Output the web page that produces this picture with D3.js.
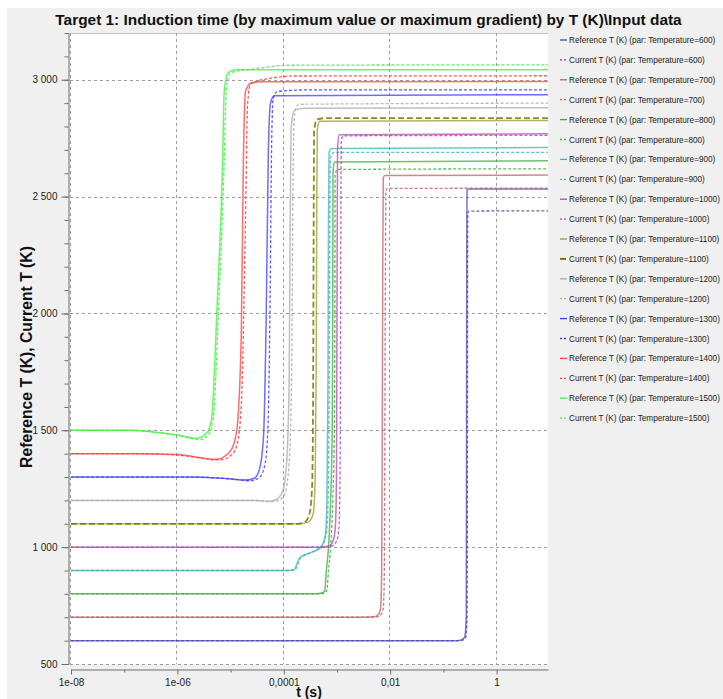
<!DOCTYPE html>
<html>
<head>
<meta charset="utf-8">
<script src="https://d3js.org/d3.v7.min.js"></script>
<style>
  body { margin: 0; background: #fff; }
  text { font-family: "Liberation Sans", Arial, sans-serif; }
</style>
</head>
<body>
<svg id="chart" width="723" height="699"></svg>
<script>
// parameter values (Temperature) of the series
var temperatures = [600, 700, 800, 900, 1000, 1100, 1200, 1300, 1400, 1500];

// each series: [log10 t (s), T (K)]
var ref600 = [[-8,600],[-0.75,600],[-0.66,603],[-0.6,615],[-0.57,700],[-0.565,1500],[-0.56,2400],[-0.555,2528],[-0.53,2532],[0.966,2533]];
var cur600 = [[-8,600],[-0.72,600],[-0.63,603],[-0.58,615],[-0.555,700],[-0.548,1500],[-0.545,2300],[-0.54,2430],[-0.52,2438],[0.966,2439]];
var ref700 = [[-8,700],[-2.5,700],[-2.3,702],[-2.22,712],[-2.18,740],[-2.16,900],[-2.15,1500],[-2.14,2200],[-2.13,2580],[-2.1,2590],[0.966,2592]];
var cur700 = [[-8,700],[-2.45,700],[-2.25,702],[-2.17,712],[-2.13,740],[-2.11,900],[-2.1,1500],[-2.09,2200],[-2.08,2525],[-2.05,2535],[0.966,2536]];
var ref800 = [[-8,801],[-3.4,801],[-3.28,804],[-3.23,815],[-3.2,900],[-3.16,1000],[-3.12,1200],[-3.09,1500],[-3.08,2000],[-3.075,2600],[-3.05,2648],[0.966,2653]];
var cur800 = [[-8,800],[-3.36,800],[-3.24,803],[-3.19,815],[-3.16,900],[-3.12,1000],[-3.08,1200],[-3.05,1500],[-3.04,2000],[-3.035,2590],[-3.0,2616],[0.966,2619]];
var ref900 = [[-8,900],[-3.9,900],[-3.8,905],[-3.75,930],[-3.7,955],[-3.6,968],[-3.45,980],[-3.3,1000],[-3.22,1050],[-3.19,1200],[-3.17,1700],[-3.16,2400],[-3.15,2690],[-3.1,2706],[0.966,2710]];
var cur900 = [[-8,900],[-3.88,900],[-3.78,905],[-3.73,930],[-3.68,955],[-3.58,968],[-3.42,985],[-3.27,1010],[-3.19,1080],[-3.16,1300],[-3.14,2000],[-3.13,2600],[-3.11,2680],[-3.05,2689],[0.966,2689]];
var ref1000 = [[-8,1000],[-3.3,1000],[-3.15,1005],[-3.07,1030],[-3.03,1090],[-3.01,1300],[-3.0,2000],[-2.99,2700],[-2.96,2765],[0.966,2769]];
var cur1000 = [[-8,1000],[-3.25,1000],[-3.1,1005],[-3.0,1030],[-2.96,1100],[-2.94,1400],[-2.93,2200],[-2.92,2740],[-2.88,2760],[0.966,2762]];
var ref1100 = [[-8,1100],[-3.7,1100],[-3.55,1106],[-3.45,1140],[-3.41,1300],[-3.39,1800],[-3.38,2500],[-3.37,2790],[-3.32,2822],[0.966,2826]];
var cur1100 = [[-8,1100],[-3.75,1100],[-3.6,1108],[-3.52,1140],[-3.47,1250],[-3.45,1600],[-3.44,2300],[-3.43,2780],[-3.38,2830],[-3.2,2836],[0.966,2836]];
var ref1200 = [[-8,1200],[-4.6,1200],[-4.3,1196],[-4.15,1203],[-4.02,1240],[-3.95,1350],[-3.9,1700],[-3.88,2400],[-3.86,2800],[-3.8,2870],[-3.6,2878],[0.966,2880]];
var cur1200 = [[-8,1200],[-4.5,1200],[-4.25,1195],[-4.1,1200],[-3.98,1230],[-3.9,1360],[-3.85,1800],[-3.83,2500],[-3.8,2850],[-3.72,2895],[0.966,2900]];
var ref1300 = [[-8,1300],[-5.7,1300],[-5.0,1292],[-4.72,1287],[-4.55,1295],[-4.45,1340],[-4.38,1480],[-4.33,2000],[-4.29,2700],[-4.25,2900],[-4.18,2932],[0.966,2936]];
var cur1300 = [[-8,1300],[-5.7,1300],[-4.9,1290],[-4.62,1284],[-4.45,1300],[-4.35,1360],[-4.3,1500],[-4.26,2000],[-4.23,2700],[-4.2,2920],[-4.12,2950],[-3.5,2957],[0.966,2957]];
var ref1400 = [[-8,1400],[-6.8,1400],[-6.0,1396],[-5.26,1376],[-5.01,1409],[-4.89,1490],[-4.8,1900],[-4.76,2650],[-4.72,2950],[-4.62,2985],[-4.4,2991],[0.966,2993]];
var cur1400 = [[-8,1400],[-6.8,1400],[-6.0,1394],[-5.2,1373],[-4.98,1395],[-4.88,1440],[-4.8,1600],[-4.72,2400],[-4.68,2900],[-4.62,2985],[-4.2,3008],[-3.8,3016],[0.966,3017]];
var ref1500 = [[-8,1500],[-6.95,1500],[-6.0,1480],[-5.64,1466],[-5.45,1488],[-5.36,1545],[-5.25,2050],[-5.15,2650],[-5.12,2950],[-5.05,3030],[-4.9,3043],[0.966,3043]];
var cur1500 = [[-8,1500],[-6.95,1500],[-6.0,1478],[-5.58,1460],[-5.42,1480],[-5.33,1545],[-5.22,2050],[-5.12,2650],[-5.08,2960],[-5.0,3030],[-4.6,3045],[-3.9,3062],[0.966,3064]];

var refSeries = [ref600, ref700, ref800, ref900, ref1000, ref1100, ref1200, ref1300, ref1400, ref1500];
var curSeries = [cur600, cur700, cur800, cur900, cur1000, cur1100, cur1200, cur1300, cur1400, cur1500];

// axis ticks
var xMajor = [1e-8, 1e-6, 1e-4, 1e-2, 1];
var xTickLabels = ["1e-08", "1e-06", "0,0001", "0,01", "1"];
var xMinor = [1e-7, 1e-5, 1e-3, 1e-1];
var yMajor = [500, 1000, 1500, 2000, 2500, 3000];
var yTickLabels = ["500", "1 000", "1 500", "2 000", "2 500", "3 000"];
var yMinor = d3.range(500, 3201, 100);

var colors = ["#4646b9", "#c45e5e", "#3faa3f", "#3bb5b5", "#b444b4", "#9a9a2a", "#aaaaaa", "#3c3cff", "#ff3c3c", "#3cf03c"];
var curColors = ["#4646b9", "#c45e5e", "#3faa3f", "#3bb5b5", "#b444b4", "#757500", "#aaaaaa", "#3c3cff", "#ff3c3c", "#3cf03c"];

var svg = d3.select("#chart");
svg.append("rect").attr("x", 7).attr("y", 8).attr("width", 716).attr("height", 691).attr("fill", "#f0f0f0");

var plotL = 71, plotR = 548, plotT = 33, plotB = 664;
var x = d3.scaleLog().domain([1e-8, Math.pow(10, 0.966)]).range([plotL, plotR]);
var y = d3.scaleLinear().domain([500, 3200]).range([plotB, plotT]);

svg.append("rect").attr("x", 70).attr("y", plotT).attr("width", plotR - 70).attr("height", plotB - plotT).attr("fill", "#fff");
svg.append("line").attr("x1", 70).attr("x2", plotR).attr("y1", plotT + 0.5).attr("y2", plotT + 0.5).attr("stroke", "#c8c8c8");

// grid
var grid = svg.append("g").attr("stroke", "#9c9c9c").attr("stroke-dasharray", "3,3");
xMajor.forEach(function (d) {
    var px = Math.round(x(d)) - 0.5;
    grid.append("line").attr("x1", px).attr("x2", px).attr("y1", plotT).attr("y2", plotB);
});
yMajor.forEach(function (d) {
    var py = Math.round(y(d)) + 0.5;
    grid.append("line").attr("x1", 70).attr("x2", plotR).attr("y1", py).attr("y2", py);
});

// series
svg.append("clipPath").attr("id", "plotClip").append("rect")
    .attr("x", 70).attr("y", plotT).attr("width", plotR - 70).attr("height", plotB - plotT);
var line = d3.line()
    .x(function (d) { return x(Math.pow(10, d[0])); })
    .y(function (d) { return y(d[1]); })
    .curve(d3.curveMonotoneX);
var plot = svg.append("g").attr("clip-path", "url(#plotClip)").attr("fill", "none");
temperatures.forEach(function (t, i) {
    plot.append("path").attr("d", line(refSeries[i]))
        .attr("stroke", colors[i]).attr("stroke-width", 1.5).attr("stroke-opacity", 0.75);
    plot.append("path").attr("d", line(curSeries[i]))
        .attr("stroke", curColors[i])
        .attr("stroke-width", t == 1100 ? 1.8 : 1.3)
        .attr("stroke-dasharray", t == 1100 ? "6,3" : "3,2")
        .attr("stroke-opacity", 0.85);
});

// y axis
var yAxisG = svg.append("g").attr("transform", "translate(68.5,0)");
yAxisG.call(d3.axisLeft(y).tickValues(yMinor).tickSize(4).tickSizeOuter(3).tickFormat(""));
yAxisG.append("g").call(d3.axisLeft(y).tickValues(yMajor).tickSize(7).tickPadding(4)
    .tickFormat(function (d, i) { return yTickLabels[i]; }))
    .select(".domain").remove();
yAxisG.selectAll("path, line").attr("stroke", "#6e6e6e");
yAxisG.selectAll("text").attr("font-size", 10).attr("fill", "#222").attr("font-family", "Liberation Sans");

// x axis
var xAxisG = svg.append("g").attr("transform", "translate(0,669.5)");
xAxisG.call(d3.axisBottom(x).tickValues(xMinor).tickSize(3).tickSizeOuter(0).tickFormat(""));
xAxisG.append("g").call(d3.axisBottom(x).tickValues(xMajor).tickSize(5).tickPadding(4)
    .tickFormat(function (d, i) { return xTickLabels[i]; }))
    .select(".domain").remove();
xAxisG.selectAll("path, line").attr("stroke", "#6e6e6e");
xAxisG.selectAll("text").attr("font-size", 10).attr("fill", "#222").attr("font-family", "Liberation Sans");

// titles
var title = svg.append("text").attr("x", 368.5).attr("y", 25).attr("text-anchor", "middle")
    .attr("font-weight", "bold").attr("font-size", 14).attr("fill", "#111")
    .text("Target 1: Induction time (by maximum value or maximum gradient) by T (K)\\Input data");
var tl = title.node().getComputedTextLength();
title.attr("font-size", 14 * 627 / tl);

svg.append("text").attr("x", 309).attr("y", 697).attr("text-anchor", "middle")
    .attr("font-weight", "bold").attr("font-size", 14).attr("fill", "#111").text("t (s)");
var yTitle = svg.append("text").attr("transform", "translate(32,357) rotate(-90)").attr("text-anchor", "middle")
    .attr("font-weight", "bold").attr("font-size", 13).attr("fill", "#111")
    .text("Reference T (K), Current T (K)");
yTitle.attr("font-size", 13 * 222 / yTitle.node().getComputedTextLength());

// legend
var legend = svg.append("g");
var k = 0;
temperatures.forEach(function (t, i) {
    [["Reference", colors[i], null], ["Current", curColors[i], t == 1100 ? "6,3" : "2,2"]].forEach(function (s) {
        var cy = 40 + k * 19.9;
        legend.append("line").attr("x1", 560).attr("x2", 567).attr("y1", cy).attr("y2", cy)
            .attr("stroke", s[1]).attr("stroke-width", t == 1100 && s[0] == "Current" ? 2 : 1.3)
            .attr("stroke-dasharray", s[2]);
        legend.append("text").attr("x", 569).attr("y", cy + 3).attr("font-size", 8.2).attr("fill", "#222")
            .text(s[0] + " T (K) (par: Temperature=" + t + ")");
        k++;
    });
});
</script>
</body>
</html>
